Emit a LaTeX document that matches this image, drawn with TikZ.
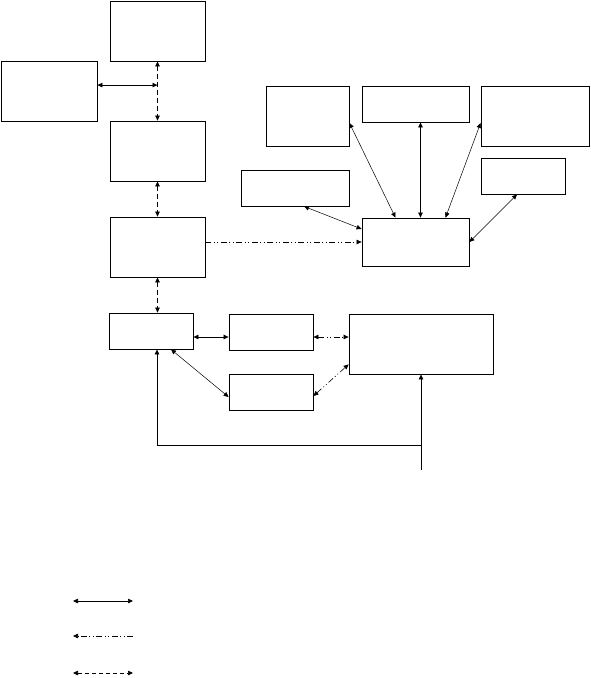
\documentclass[tikz,border=0pt]{standalone}
\usepackage{tikz}
\usetikzlibrary{arrows.meta,positioning,calc}

\begin{document}
\begin{tikzpicture}[
    x=1pt, y=-1pt,
    tip/.tip={Triangle[length=5pt,width=4.5pt]},
    box/.style={draw, line width=0.8pt, inner sep=0pt, minimum width=#1},
    box/.default=95pt,
    tall/.style={minimum height=60pt},
    short/.style={minimum height=36pt},
    link/.style={line width=0.7pt, tip-tip},
    thinlink/.style={link, line width=0.5pt},
    dashlink/.style={link, dash pattern=on 5pt off 3pt},
    dotted2/.style={line width=0.6pt, dash pattern=on 6pt off 2.5pt on 1pt off 2.5pt on 1pt off 2.5pt},
    dotlink/.style={dotted2, tip-tip}
]
\useasboundingbox (0,0) rectangle (591,678);

% Left column
\node[box, tall] (A) at (157.5, 31) {};
\node[box=96pt, tall] (B) at (49, 91) {};
\node[box, tall] (C) at (157.5, 151) {};
\node[box, tall] (D) at (157.5, 247) {};

% Top right group
\node[box=83pt, tall] (I) at (307.5, 116) {};
\node[box=107pt, short] (J) at (415.5, 104) {};
\node[box=108pt, tall] (K) at (535, 116) {};
\node[box=108pt, short] (L) at (295, 188) {};
\node[box=84pt, short] (M) at (523, 176) {};
\node[box=107pt, minimum height=48pt] (N) at (415.5, 242) {};

% Lower group
\node[box=84pt, short] (E) at (151, 331) {};
\node[box=84pt, short] (F) at (271, 332) {};
\node[box=84pt, short] (G) at (271, 392) {};
\node[box=144pt, tall] (H) at (421, 344) {};

% Left column links
\coordinate (ac) at ($(A.south)!0.4!(C.north)$);
\draw[dashlink] (A.south) -- (C.north);
\draw[link] (B.east |- ac) -- (ac);
\draw[dashlink] (C.south) -- (D.north);
\draw[dashlink] (D.south) -- (D.south |- E.north);
\draw[dotted2, -tip] (D.east |- N.west) -- (N.west);

% Hub links
\draw[thinlink] ([yshift=-7pt]I.east) -- ([xshift=-20pt]N.north);
\draw[link] ([xshift=5pt]J.south) -- ([xshift=5pt]N.north);
\draw[thinlink] ([yshift=-7pt]K.west) -- ([xshift=30pt]N.north);
\draw[thinlink] ([xshift=9pt]L.south) -- ([yshift=13pt]N.west);
\draw[thinlink] ([xshift=-6pt]M.south) -- (N.east);

% Lower links
\draw[link] ([yshift=-6pt]E.east) -- ([yshift=-6pt]E.east -| F.west);
\draw[dotlink] ([yshift=-5pt]F.east) -- ([yshift=-5pt]F.east -| H.west);
\draw[dotlink] ([yshift=-4pt]G.east) -- ([yshift=10pt]H.south west);
\draw[thinlink] ([xshift=20pt]E.south) -- ([yshift=-5pt]G.west);

% Feedback loop
\coordinate (feed) at (421, 470);
\coordinate (split) at (421, 445);
\draw[line width=0.7pt, -tip] (feed) -- (H.south);
\draw[line width=0.7pt, -tip] (split) -| ([xshift=6pt]E.south);

% Legend
\coordinate (s1) at (73, 601);  \coordinate (e1) at (133, 601);
\coordinate (s2) at (73, 636);  \coordinate (e2) at (133, 636);
\coordinate (s3) at (73, 673);  \coordinate (e3) at (133, 673);
\draw[link] (s1) -- (e1);
\draw[dotted2, -tip] (e2) -- (s2);
\draw[dashlink, dash pattern=on 4pt off 3pt] (s3) -- (e3);
\end{tikzpicture}
\end{document}
